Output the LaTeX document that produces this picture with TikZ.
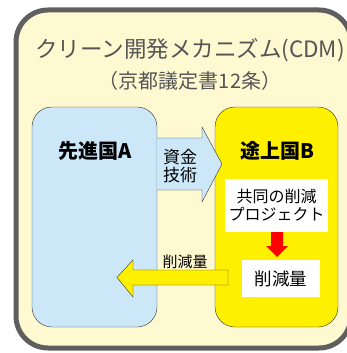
\documentclass[tikz,border=0pt]{standalone}
\usepackage{fontspec}
\setmainfont{Noto Sans CJK JP}
\definecolor{framegray}{HTML}{5F5F5F}
\definecolor{paleyellow}{HTML}{FFF9D2}
\definecolor{skyblue}{HTML}{CCE8F8}
\definecolor{brightyellow}{HTML}{FFF000}
\definecolor{titlegray}{HTML}{555555}
\begin{document}
\begin{tikzpicture}
        [x=1pt, y=-1pt,
         country/.style={rounded corners=20pt, draw=black!80, thin},
         whitebox/.style={fill=white, inner sep=0pt},
         label/.style={font=\fontsize{17}{21}\selectfont, align=center}]
        \useasboundingbox (0,0) rectangle (347,353);
        % outer frame
        \draw [line width=5pt, draw=framegray, fill=paleyellow, rounded corners=32pt]
              (16,10) rectangle (351,348);
        \node [text=titlegray, font=\fontsize{22.5}{26}\selectfont] (title) at (190,50) {クリーン開発メカニズム(CDM)};
        \node [text=titlegray, font=\fontsize{20}{24}\selectfont] (article) at (190,81) {（京都議定書12条）};
        % countries
        \draw [country, fill=skyblue] (32,107) rectangle (157,327);
        \draw [country, fill=brightyellow] (215,107) rectangle (338,327);
        \node [font=\fontsize{20}{24}\selectfont\bfseries] (devA) at (95,151) {先進国A};
        \node [font=\fontsize{20}{24}\selectfont\bfseries] (devB) at (277,151) {途上国B};
        % money and technology
        \draw [fill=skyblue, draw=black!80, thin]
              (157,138) -- (202,138) -- (202,127) -- (222,164)
              -- (202,202) -- (202,190) -- (157,190);
        \node [label] (fund) at (180,166) {資金\\[-3pt]技術};
        % project
        \node [whitebox, minimum width=103pt, minimum height=53pt, label, font=\fontsize{16}{20}\selectfont] (proj) at (276.5,205.5) {共同の削減\\[-2pt]プロジェクト};
        \node [whitebox, minimum width=78pt, minimum height=37pt, font=\fontsize{17.5}{21}\selectfont] (cut) at (281,278.5) {削減量};
        \fill [red] (271,232) -- (283,232) -- (283,246) -- (288,246)
              -- (277,257) -- (266,246) -- (271,246) -- cycle;
        % credits
        \draw [fill=brightyellow, draw=black!80, thin]
              (228,270) -- (133,270) -- (133,260) -- (117,277.5)
              -- (133,297) -- (133,285) -- (228,285) -- cycle;
        \node [font=\fontsize{15}{18}\selectfont] (creditLabel) at (185,262) {削減量};
    \end{tikzpicture}
\end{document}
